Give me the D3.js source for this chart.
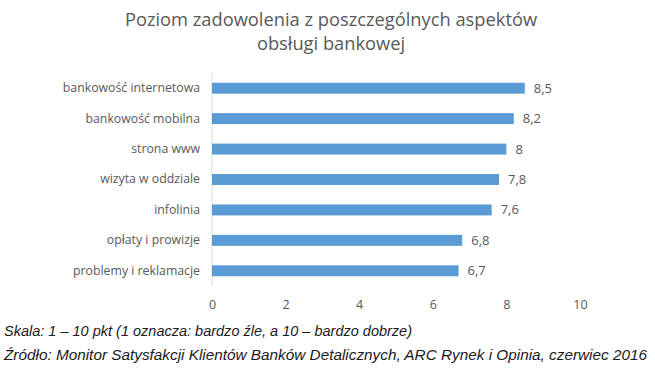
<!DOCTYPE html>
<html>
<head>
    <meta charset="utf-8">
    <script src="https://cdn.jsdelivr.net/npm/d3@7"></script>
    <style>
        body { margin: 0; background: #fff; }
    </style>
</head>
<body>
    <svg width="655" height="372" id="mainsvg"></svg>
    <script>
        const categories = ['bankowość internetowa', 'bankowość mobilna', 'strona www', 'wizyta w oddziale',
            'infolinia', 'opłaty i prowizje', 'problemy i reklamacje'];
        const values = [8.5, 8.2, 8, 7.8, 7.6, 6.8, 6.7];
        const xTicks = [0, 2, 4, 6, 8, 10];
        const titleLines = ['Poziom zadowolenia z poszczególnych  aspektów', 'obsługi bankowej'];
        const notes = ['Skala: 1 – 10 pkt (1 oznacza: bardzo źle, a 10 – bardzo dobrze)',
            'Źródło: Monitor Satysfakcji Klientów Banków Detalicznych, ARC Rynek i Opinia, czerwiec 2016'];
        const noteWidths = [408, 643];

        const svg = d3.select('svg');
        const margin = { top: 73, left: 212 };
        const innerWidth = 580 - margin.left;
        const innerHeight = 286 - margin.top;
        const textColor = '#595959';

        const g = svg.append('g').attr('transform', `translate(${margin.left}, ${margin.top})`);

        const xScale = d3.scaleLinear().domain([0, 10]).range([0, innerWidth]);
        const yScale = d3.scaleBand().domain(categories).range([0, innerHeight]).paddingInner(0.64).paddingOuter(0.32);

        // title
        svg.selectAll('.title').data(titleLines).join('text')
            .attr('class', 'title')
            .attr('x', 331)
            .attr('y', (d, i) => 26 + i * 24)
            .attr('text-anchor', 'middle')
            .attr('font-family', 'Open Sans, sans-serif')
            .attr('font-size', 18.3)
            .attr('fill', textColor)
            .text(d => d);

        // vertical axis line
        g.append('line')
            .attr('x1', 0).attr('x2', 0)
            .attr('y1', 0).attr('y2', innerHeight)
            .attr('stroke', '#d9d9d9');

        g.selectAll('.bar').data(values).join('rect')
            .attr('class', 'bar')
            .attr('x', 0)
            .attr('y', (d, i) => yScale(categories[i]))
            .attr('width', d => xScale(d))
            .attr('height', yScale.bandwidth())
            .attr('fill', '#5b9bd5');

        g.selectAll('.val').data(values).join('text')
            .attr('class', 'val')
            .attr('x', d => xScale(d) + 9)
            .attr('y', (d, i) => yScale(categories[i]) + yScale.bandwidth() / 2)
            .attr('dy', '0.35em')
            .attr('font-family', 'Open Sans, sans-serif')
            .attr('font-size', 13)
            .attr('fill', textColor)
            .text(d => String(d).replace('.', ','));

        const yAxis = d3.axisLeft(yScale).tickSize(0).tickPadding(12);
        const yg = g.append('g').call(yAxis);
        yg.select('.domain').remove();
        yg.selectAll('text')
            .attr('font-family', 'Open Sans, sans-serif')
            .attr('font-size', 12.3)
            .attr('fill', textColor);

        const xAxis = d3.axisBottom(xScale).tickValues(xTicks).tickSize(0).tickPadding(14);
        const xg = g.append('g').attr('transform', `translate(0, ${innerHeight})`).call(xAxis);
        xg.select('.domain').remove();
        xg.selectAll('text')
            .attr('font-family', 'Open Sans, sans-serif')
            .attr('font-size', 12.5)
            .attr('fill', textColor);

        svg.selectAll('.note').data(notes).join('text')
            .attr('class', 'note')
            .attr('x', 4)
            .attr('y', (d, i) => 336 + i * 23.5)
            .attr('font-family', 'Liberation Sans, Arial, sans-serif')
            .attr('font-style', 'italic')
            .attr('font-size', 14)
            .attr('textLength', (d, i) => noteWidths[i])
            .attr('lengthAdjust', 'spacingAndGlyphs')
            .attr('fill', '#1a1a1a')
            .text(d => d);
    </script>
</body>
</html>
